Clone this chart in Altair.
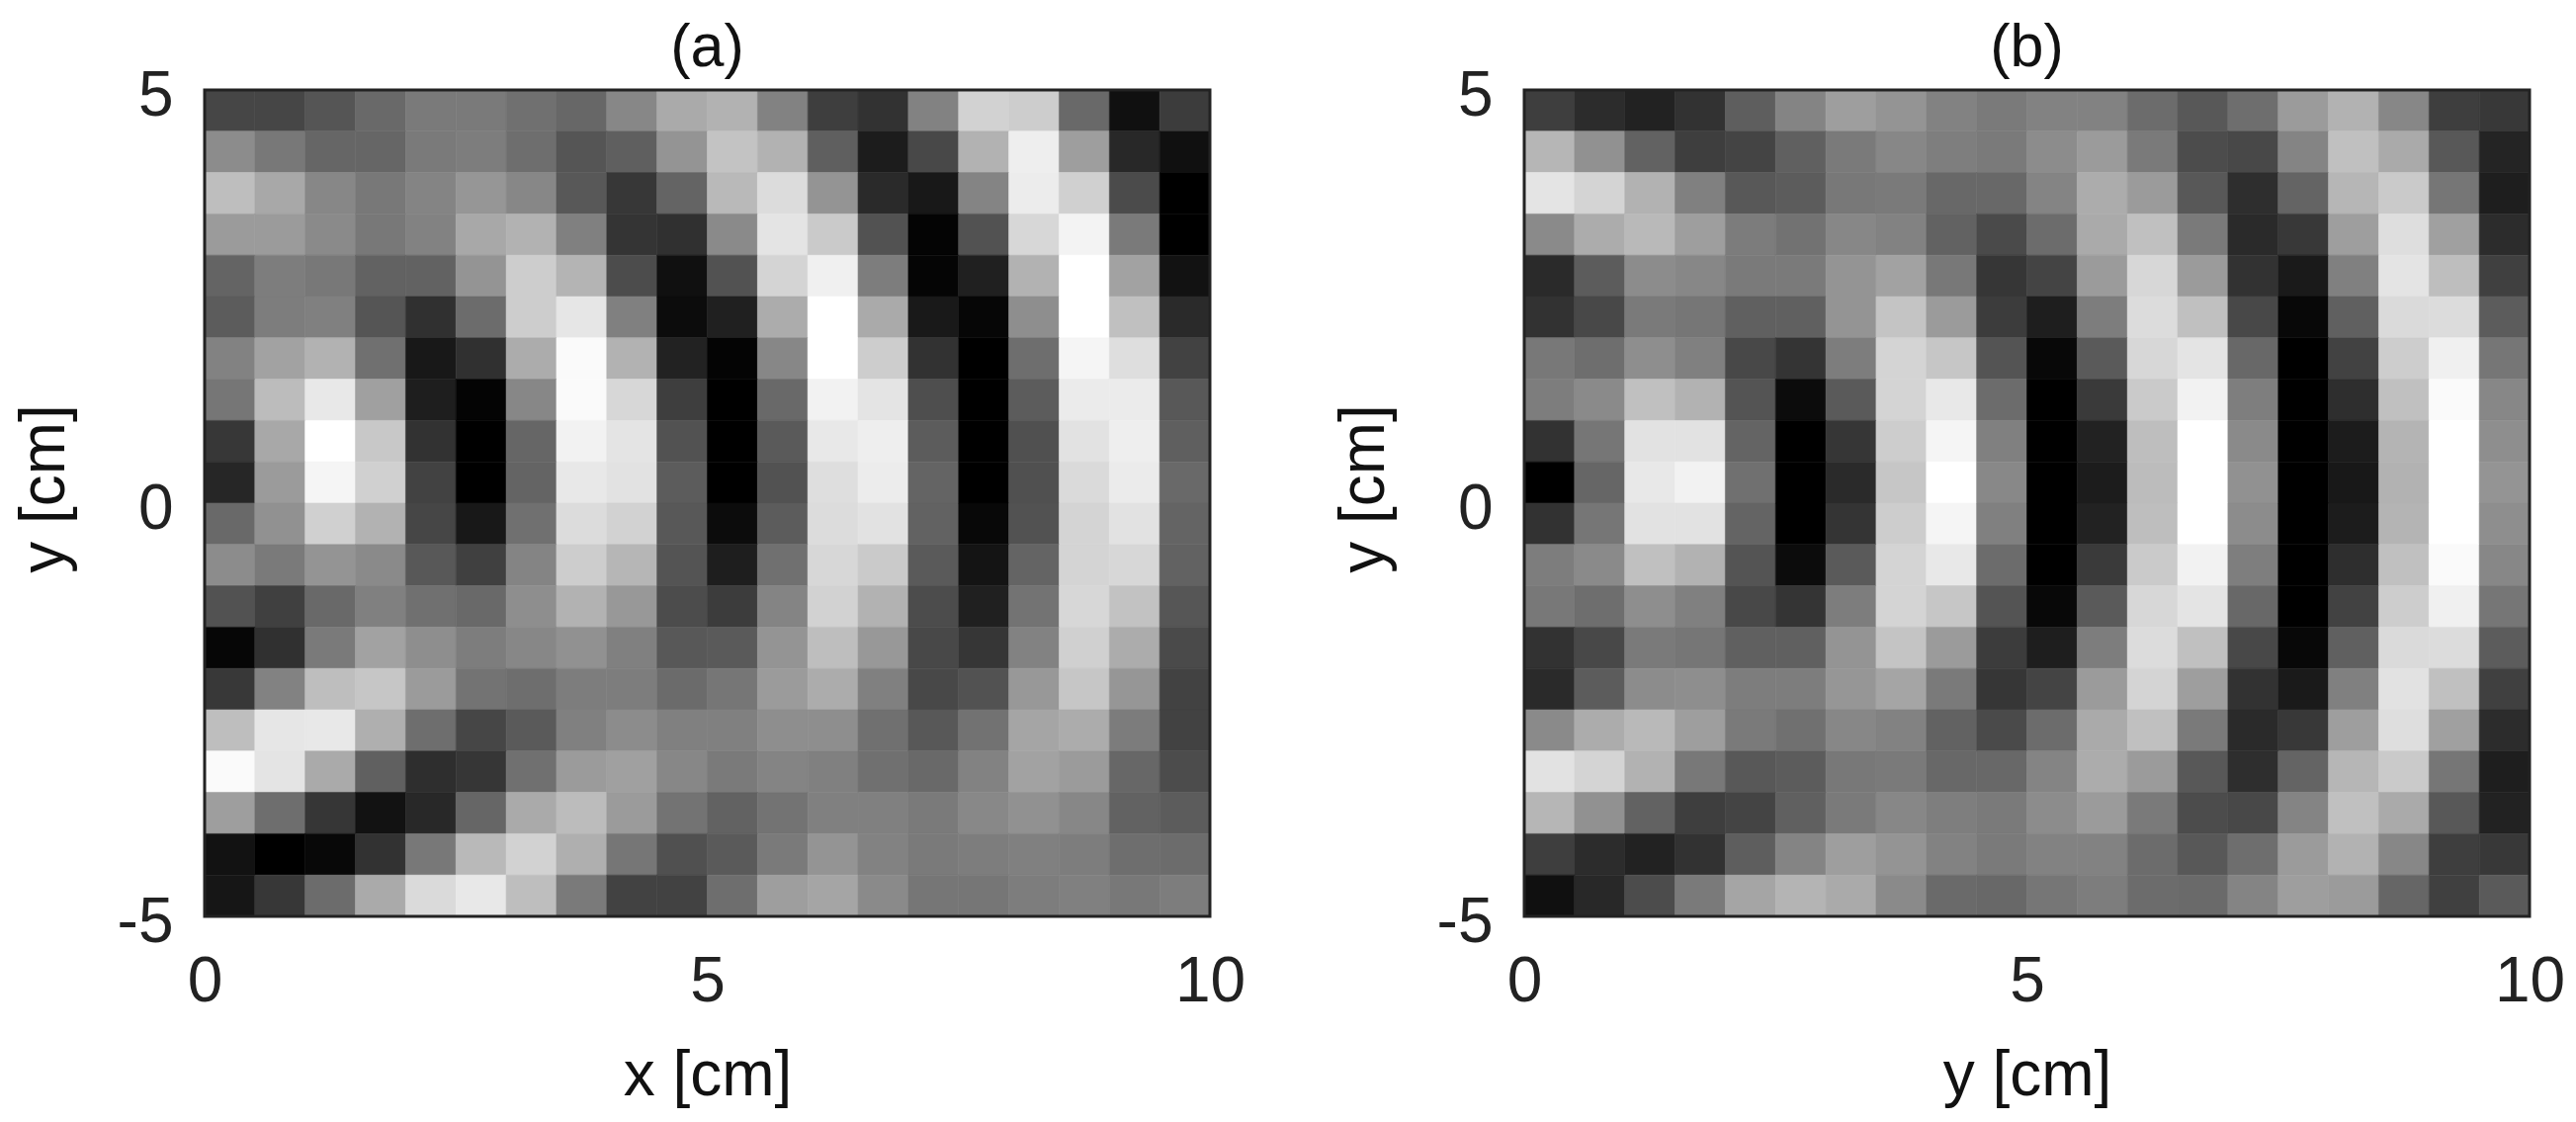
import altair as alt
import pandas as pd

panel_a = [
[70,70,85,105,122,122,112,103,135,170,178,130,62,50,130,210,205,105,16,60],
[140,120,102,102,122,125,110,85,95,148,195,178,95,28,72,178,238,158,40,16],
[190,168,135,120,132,150,135,88,55,100,185,220,148,42,24,132,236,208,75,0],
[155,155,138,120,130,168,178,128,52,48,138,228,202,82,4,82,215,243,122,0],
[100,125,120,98,98,148,205,180,76,16,82,212,240,125,5,32,178,255,162,18],
[92,125,128,85,48,108,205,230,128,12,32,172,255,170,25,6,142,255,192,42],
[130,162,178,112,24,48,172,250,178,34,4,135,255,205,50,0,110,245,222,66],
[118,188,232,160,30,4,135,250,215,62,0,105,242,228,78,0,92,235,235,88],
[55,168,255,200,50,0,102,242,228,82,0,90,232,238,92,0,80,226,238,95],
[38,155,245,208,66,0,100,232,226,92,0,82,222,236,100,0,80,218,235,105],
[105,145,208,178,70,24,112,220,210,88,12,92,220,226,98,8,82,212,226,100],
[140,122,148,138,88,64,132,205,182,84,30,112,215,202,90,20,100,212,215,98],
[82,64,105,128,112,105,142,178,152,76,60,132,210,178,76,32,115,215,194,86],
[6,48,122,162,142,125,135,145,128,88,90,148,190,152,72,54,130,208,172,74],
[56,130,190,198,155,115,110,125,125,107,118,155,172,128,72,82,152,198,150,66],
[190,230,232,175,110,70,90,128,140,128,128,142,142,112,88,114,165,172,124,66],
[250,228,170,96,46,54,112,155,160,135,122,132,128,112,105,130,162,155,103,76],
[158,110,54,18,40,102,170,188,155,115,98,115,128,128,122,136,145,135,98,92],
[18,0,8,50,120,185,210,175,118,80,90,122,148,130,122,125,128,125,110,108],
[22,55,108,170,218,232,190,122,66,66,110,158,165,138,118,118,125,128,120,125],
]
panel_b = [
[62,44,34,50,94,132,158,148,130,122,130,130,108,88,110,155,178,135,62,56],
[182,145,98,62,68,96,122,135,126,122,140,155,122,76,72,132,192,170,88,36],
[228,212,178,128,88,92,120,122,104,104,132,172,155,88,46,100,182,202,118,30],
[138,172,185,158,124,114,135,130,98,74,108,170,192,122,42,56,158,222,160,44],
[42,92,140,135,122,122,148,162,120,54,68,155,215,155,50,26,128,228,190,64],
[50,72,122,118,96,96,148,196,155,60,30,125,220,192,72,8,96,218,220,92],
[120,110,142,128,72,52,125,212,198,84,8,90,215,228,104,0,66,205,240,118],
[125,138,192,178,84,12,90,212,232,108,0,58,202,242,126,0,46,192,250,135],
[50,118,226,226,100,0,54,205,245,128,0,34,190,255,138,0,28,180,255,142],
[0,102,232,242,112,0,42,198,255,136,0,28,188,255,145,0,24,178,255,148],
[50,118,226,226,100,0,52,205,245,128,0,34,190,255,140,0,28,180,255,142],
[125,138,192,178,84,12,90,212,232,108,0,58,202,242,126,0,46,192,250,135],
[120,110,142,128,72,52,125,212,198,84,8,90,215,228,104,0,66,205,240,118],
[50,72,122,118,96,96,148,196,155,60,30,125,220,192,72,8,96,218,220,92],
[42,92,140,142,125,125,150,165,122,54,68,155,212,158,50,26,128,226,192,64],
[138,172,185,158,122,112,135,130,98,74,108,170,192,122,42,56,158,222,160,44],
[226,212,178,120,88,92,120,122,104,104,132,172,155,88,46,100,182,202,118,30],
[182,145,98,62,68,96,122,135,126,122,140,155,122,76,72,132,192,170,88,34],
[62,44,34,50,94,132,158,148,130,122,130,130,108,88,110,155,178,135,62,56],
[16,40,76,122,165,180,170,138,106,104,118,125,108,106,132,158,155,102,64,90],
]
x_ticks = [0, 5, 10]
y_ticks = [-5, 0, 5]
FONT = "Liberation Sans"
INK = "#222222"
TITLE_INK = "#111111"

def table(grid):
    rows = []
    for r, row in enumerate(grid):
        for c, v in enumerate(row):
            rows.append({"x0": c * 0.5, "x1": (c + 1) * 0.5,
                         "y0": 5 - (r + 1) * 0.5, "y1": 5 - r * 0.5, "v": v})
    return pd.DataFrame(rows)

gray = alt.Scale(domain=[0, 255], range=["#000000", "#ffffff"], interpolate="rgb")

def panel(grid, title, xlabel):
    xs = alt.X("x0:Q", scale=alt.Scale(domain=[0, 10], nice=False, zero=False),
               axis=alt.Axis(values=x_ticks, title=xlabel, grid=False, ticks=False, domain=False,
                             labelFontSize=64, titleFontSize=64, labelFont=FONT, titleFont=FONT,
                             labelColor=INK, titleColor=TITLE_INK, titleFontWeight="normal",
                             labelPadding=34, titlePadding=31, labelExpr="datum.value + ''",
                             labelFlush=False))
    ys = alt.Y("y0:Q", scale=alt.Scale(domain=[-5, 5], nice=False, zero=False),
               axis=alt.Axis(values=y_ticks, title="y [cm]", grid=False, ticks=False, domain=False,
                             labelFontSize=64, titleFontSize=64, labelFont=FONT, titleFont=FONT,
                             labelColor=INK, titleColor=TITLE_INK, titleFontWeight="normal",
                             labelPadding=32, titlePadding=41, labelExpr="datum.value + ''",
                             labelOffset=6, titleY=403, labelFlush=False))
    cells = alt.Chart(table(grid)).mark_rect(strokeWidth=0.6).encode(
        x=xs, x2="x1:Q", y=ys, y2="y1:Q",
        color=alt.Color("v:Q", scale=gray, legend=None),
        stroke=alt.Color("v:Q", scale=gray, legend=None),
    )
    frame = alt.Chart(pd.DataFrame({"a": [0], "b": [10], "c": [-5], "d": [5]})).mark_rect(
        filled=False, stroke=INK, strokeWidth=3, fillOpacity=0
    ).encode(x="a:Q", x2="b:Q", y="c:Q", y2="d:Q")
    return alt.layer(cells, frame).properties(
        width=1017, height=836,
        title=alt.Title(title, fontSize=61, font=FONT, fontWeight="normal", color=TITLE_INK, offset=-15),
    )

chart = alt.hconcat(panel(panel_a, "(a)", "x [cm]"), panel(panel_b, "(b)", "y [cm]"), spacing=86).configure_view(
    stroke=None
).configure(padding={"left": 4, "top": 9, "right": 0, "bottom": 0}, background="white")
chart.save("out.html", embed_options={"renderer": "svg", "actions": False})
